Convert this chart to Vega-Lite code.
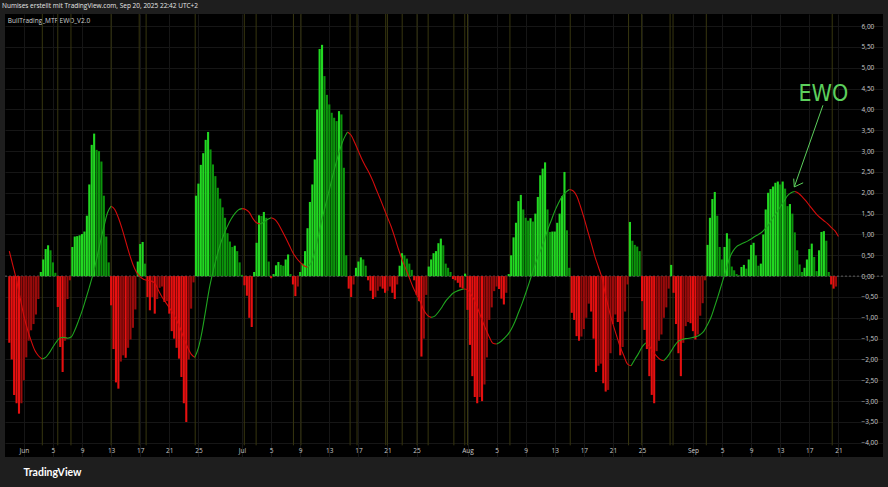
{
 "$schema": "https://vega.github.io/schema/vega-lite/v6.json",
 "width": 878, "height": 443,
 "autosize": {"type": "none"},
 "padding": {"left": 5, "top": 14, "right": 5, "bottom": 30},
 "background": "#1e1e1e",
 "title": {"text": "Numises erstellt mit TradingView.com, Sep 20, 2025 22:42 UTC+2", "anchor": "start", "frame": "group", "dx": -3, "offset": 4, "fontSize": 6.5, "fontWeight": "normal", "color": "#e6e6e6", "font": "Open Sans"},
 "resolve": {"axis": {"x": "independent", "y": "independent"}},
 "datasets": {
  "olive": [{"t":"2025-06-03T13:00"},{"t":"2025-06-05T16:00"},{"t":"2025-06-07T11:30"},{"t":"2025-06-13T00:00"},{"t":"2025-06-16T20:40"},{"t":"2025-06-17T19:30"},{"t":"2025-06-24T13:30"},{"t":"2025-07-01T07:30"},{"t":"2025-07-02T22:30"},{"t":"2025-07-08T01:40"},{"t":"2025-07-09T02:30"},{"t":"2025-07-15T20:40"},{"t":"2025-07-16T19:30"},{"t":"2025-07-20T18:00"},{"t":"2025-07-20T23:30"},{"t":"2025-07-23T00:30"},{"t":"2025-07-25T01:30"},{"t":"2025-07-26T14:10"},{"t":"2025-07-30T03:00"},{"t":"2025-07-31T15:00"},{"t":"2025-08-01T00:00"},{"t":"2025-08-06T20:00"},{"t":"2025-08-15T03:00"},{"t":"2025-08-23T03:30"},{"t":"2025-08-24T22:50"},{"t":"2025-08-28T20:30"},{"t":"2025-08-29T06:15"},{"t":"2025-09-02T20:00"},{"t":"2025-09-20T03:30"}],
  "arrow": [
   {"t":"2025-09-18T20:50","v":4.1,"t2":"2025-09-14T22:20","v2":2.14},
   {"t":"2025-09-14T22:20","v":2.14,"t2":"2025-09-14T20:25","v2":2.34},
   {"t":"2025-09-14T22:20","v":2.14,"t2":"2025-09-16T03:35","v2":2.24}
  ],
  "label": [{"t":"2025-09-18T22:30","v":4.38,"label":"EWO"}],
  "ewo": [
{"t":"2025-05-30T00:00","v":-1.6},{"t":"2025-05-30T08:00","v":-2.0},{"t":"2025-05-30T16:00","v":-2.85},
{"t":"2025-05-31T00:00","v":-3.05},{"t":"2025-05-31T08:00","v":-3.3},{"t":"2025-05-31T16:00","v":-3.05},
{"t":"2025-06-01T00:00","v":-2.5},{"t":"2025-06-01T08:00","v":-1.95},{"t":"2025-06-01T16:00","v":-1.55},
{"t":"2025-06-02T00:00","v":-1.3},{"t":"2025-06-02T08:00","v":-1.15},{"t":"2025-06-02T16:00","v":-0.92},
{"t":"2025-06-03T00:00","v":-0.55},{"t":"2025-06-03T08:00","v":0.1},{"t":"2025-06-03T16:00","v":0.4},
{"t":"2025-06-04T00:00","v":0.65},{"t":"2025-06-04T08:00","v":0.74},{"t":"2025-06-04T16:00","v":0.62},
{"t":"2025-06-05T00:00","v":0.33},{"t":"2025-06-05T08:00","v":0.08},{"t":"2025-06-05T16:00","v":-0.74},
{"t":"2025-06-06T00:00","v":-1.7},{"t":"2025-06-06T08:00","v":-2.3},{"t":"2025-06-06T16:00","v":-1.55},
{"t":"2025-06-07T00:00","v":-0.55},{"t":"2025-06-07T08:00","v":-0.1},{"t":"2025-06-07T16:00","v":0.7},
{"t":"2025-06-08T00:00","v":0.95},{"t":"2025-06-08T08:00","v":0.96},{"t":"2025-06-08T16:00","v":0.98},
{"t":"2025-06-09T00:00","v":1.01},{"t":"2025-06-09T08:00","v":1.07},{"t":"2025-06-09T16:00","v":1.45},
{"t":"2025-06-10T00:00","v":2.2},{"t":"2025-06-10T08:00","v":3.15},{"t":"2025-06-10T16:00","v":3.42},
{"t":"2025-06-11T00:00","v":3.03},{"t":"2025-06-11T08:00","v":3.0},{"t":"2025-06-11T16:00","v":2.75},
{"t":"2025-06-12T00:00","v":1.93},{"t":"2025-06-12T08:00","v":0.95},{"t":"2025-06-12T16:00","v":0.33},
{"t":"2025-06-13T00:00","v":-0.7},{"t":"2025-06-13T08:00","v":-1.75},{"t":"2025-06-13T16:00","v":-2.55},
{"t":"2025-06-14T00:00","v":-2.7},{"t":"2025-06-14T08:00","v":-2.05},{"t":"2025-06-14T16:00","v":-1.9},
{"t":"2025-06-15T00:00","v":-1.96},{"t":"2025-06-15T08:00","v":-1.72},{"t":"2025-06-15T16:00","v":-1.52},
{"t":"2025-06-16T00:00","v":-1.24},{"t":"2025-06-16T08:00","v":-0.8},{"t":"2025-06-16T16:00","v":0.35},
{"t":"2025-06-17T00:00","v":0.77},{"t":"2025-06-17T08:00","v":0.82},{"t":"2025-06-17T16:00","v":0.3},
{"t":"2025-06-18T00:00","v":-0.5},{"t":"2025-06-18T08:00","v":-0.82},{"t":"2025-06-18T16:00","v":-0.5},
{"t":"2025-06-19T00:00","v":-0.9},{"t":"2025-06-19T08:00","v":-0.55},{"t":"2025-06-19T16:00","v":-0.28},
{"t":"2025-06-20T00:00","v":-0.25},{"t":"2025-06-20T08:00","v":-0.62},{"t":"2025-06-20T16:00","v":-0.6},
{"t":"2025-06-21T00:00","v":-0.9},{"t":"2025-06-21T08:00","v":-1.32},{"t":"2025-06-21T16:00","v":-1.5},
{"t":"2025-06-22T00:00","v":-1.72},{"t":"2025-06-22T08:00","v":-1.98},{"t":"2025-06-22T16:00","v":-2.42},
{"t":"2025-06-23T00:00","v":-3.05},{"t":"2025-06-23T08:00","v":-3.5},{"t":"2025-06-23T16:00","v":-2.0},
{"t":"2025-06-24T00:00","v":-0.78},{"t":"2025-06-24T08:00","v":-0.15},{"t":"2025-06-24T16:00","v":1.93},
{"t":"2025-06-25T00:00","v":2.22},{"t":"2025-06-25T08:00","v":2.67},{"t":"2025-06-25T16:00","v":2.95},
{"t":"2025-06-26T00:00","v":3.27},{"t":"2025-06-26T08:00","v":3.46},{"t":"2025-06-26T16:00","v":3.04},
{"t":"2025-06-27T00:00","v":2.68},{"t":"2025-06-27T08:00","v":2.4},{"t":"2025-06-27T16:00","v":2.12},
{"t":"2025-06-28T00:00","v":1.86},{"t":"2025-06-28T08:00","v":1.65},{"t":"2025-06-28T16:00","v":1.4},
{"t":"2025-06-29T00:00","v":1.03},{"t":"2025-06-29T08:00","v":0.83},{"t":"2025-06-29T16:00","v":0.7},
{"t":"2025-06-30T00:00","v":0.73},{"t":"2025-06-30T08:00","v":0.6},{"t":"2025-06-30T16:00","v":0.33},
{"t":"2025-07-01T00:00","v":0.03},{"t":"2025-07-01T08:00","v":-0.22},{"t":"2025-07-01T16:00","v":-0.47},
{"t":"2025-07-02T00:00","v":-1.0},{"t":"2025-07-02T08:00","v":-1.22},{"t":"2025-07-02T16:00","v":0.1},
{"t":"2025-07-03T00:00","v":0.8},{"t":"2025-07-03T08:00","v":1.46},{"t":"2025-07-03T16:00","v":1.44},
{"t":"2025-07-04T00:00","v":1.54},{"t":"2025-07-04T08:00","v":1.4},{"t":"2025-07-04T16:00","v":0.35},
{"t":"2025-07-05T00:00","v":-0.05},{"t":"2025-07-05T08:00","v":0.05},{"t":"2025-07-05T16:00","v":0.26},
{"t":"2025-07-06T00:00","v":0.34},{"t":"2025-07-06T08:00","v":0.27},{"t":"2025-07-06T16:00","v":0.25},
{"t":"2025-07-07T00:00","v":0.4},{"t":"2025-07-07T08:00","v":0.52},{"t":"2025-07-07T16:00","v":0.05},
{"t":"2025-07-08T00:00","v":-0.2},{"t":"2025-07-08T08:00","v":-0.48},{"t":"2025-07-08T16:00","v":-0.25},
{"t":"2025-07-09T00:00","v":0.1},{"t":"2025-07-09T08:00","v":0.3},{"t":"2025-07-09T16:00","v":0.6},
{"t":"2025-07-10T00:00","v":1.15},{"t":"2025-07-10T08:00","v":1.78},{"t":"2025-07-10T16:00","v":2.2},
{"t":"2025-07-11T00:00","v":2.8},{"t":"2025-07-11T08:00","v":4.0},{"t":"2025-07-11T16:00","v":5.45},
{"t":"2025-07-12T00:00","v":5.55},{"t":"2025-07-12T08:00","v":4.8},{"t":"2025-07-12T16:00","v":4.35},
{"t":"2025-07-13T00:00","v":4.12},{"t":"2025-07-13T08:00","v":3.92},{"t":"2025-07-13T16:00","v":3.8},
{"t":"2025-07-14T00:00","v":3.72},{"t":"2025-07-14T08:00","v":3.96},{"t":"2025-07-14T16:00","v":3.88},
{"t":"2025-07-15T00:00","v":2.6},{"t":"2025-07-15T08:00","v":0.5},{"t":"2025-07-15T16:00","v":-0.3},
{"t":"2025-07-16T00:00","v":-0.5},{"t":"2025-07-16T08:00","v":-0.2},{"t":"2025-07-16T16:00","v":0.2},
{"t":"2025-07-17T00:00","v":0.35},{"t":"2025-07-17T08:00","v":0.45},{"t":"2025-07-17T16:00","v":0.4},
{"t":"2025-07-18T00:00","v":0.25},{"t":"2025-07-18T08:00","v":-0.1},{"t":"2025-07-18T16:00","v":-0.35},
{"t":"2025-07-19T00:00","v":-0.55},{"t":"2025-07-19T08:00","v":-0.5},{"t":"2025-07-19T16:00","v":-0.35},
{"t":"2025-07-20T00:00","v":-0.25},{"t":"2025-07-20T08:00","v":-0.3},{"t":"2025-07-20T16:00","v":-0.4},
{"t":"2025-07-21T00:00","v":-0.35},{"t":"2025-07-21T08:00","v":-0.25},{"t":"2025-07-21T16:00","v":-0.4},
{"t":"2025-07-22T00:00","v":-0.55},{"t":"2025-07-22T08:00","v":-0.2},{"t":"2025-07-22T16:00","v":0.25},
{"t":"2025-07-23T00:00","v":0.55},{"t":"2025-07-23T08:00","v":0.5},{"t":"2025-07-23T16:00","v":0.42},
{"t":"2025-07-24T00:00","v":0.3},{"t":"2025-07-24T08:00","v":0.15},{"t":"2025-07-24T16:00","v":-0.1},
{"t":"2025-07-25T00:00","v":-0.45},{"t":"2025-07-25T08:00","v":-0.6},{"t":"2025-07-25T16:00","v":-1.93},
{"t":"2025-07-26T00:00","v":-1.5},{"t":"2025-07-26T08:00","v":-0.45},{"t":"2025-07-26T16:00","v":0.23},
{"t":"2025-07-27T00:00","v":0.4},{"t":"2025-07-27T08:00","v":0.55},{"t":"2025-07-27T16:00","v":0.6},
{"t":"2025-07-28T00:00","v":0.79},{"t":"2025-07-28T08:00","v":0.9},{"t":"2025-07-28T16:00","v":0.74},
{"t":"2025-07-29T00:00","v":0.3},{"t":"2025-07-29T08:00","v":0.2},{"t":"2025-07-29T16:00","v":0.1},
{"t":"2025-07-30T00:00","v":-0.07},{"t":"2025-07-30T08:00","v":-0.1},{"t":"2025-07-30T16:00","v":-0.16},
{"t":"2025-07-31T00:00","v":-0.27},{"t":"2025-07-31T08:00","v":-0.3},{"t":"2025-07-31T16:00","v":0.06},
{"t":"2025-08-01T00:00","v":-0.81},{"t":"2025-08-01T08:00","v":-1.65},{"t":"2025-08-01T16:00","v":-2.4},
{"t":"2025-08-02T00:00","v":-2.9},{"t":"2025-08-02T08:00","v":-3.05},{"t":"2025-08-02T16:00","v":-2.9},
{"t":"2025-08-03T00:00","v":-3.0},{"t":"2025-08-03T08:00","v":-2.6},{"t":"2025-08-03T16:00","v":-1.95},
{"t":"2025-08-04T00:00","v":-1.05},{"t":"2025-08-04T08:00","v":-0.75},{"t":"2025-08-04T16:00","v":-0.36},
{"t":"2025-08-05T00:00","v":-0.25},{"t":"2025-08-05T08:00","v":-0.31},{"t":"2025-08-05T16:00","v":-0.54},
{"t":"2025-08-06T00:00","v":-0.68},{"t":"2025-08-06T08:00","v":-0.4},{"t":"2025-08-06T16:00","v":0.05},
{"t":"2025-08-07T00:00","v":0.5},{"t":"2025-08-07T08:00","v":0.93},{"t":"2025-08-07T16:00","v":1.28},
{"t":"2025-08-08T00:00","v":1.8},{"t":"2025-08-08T08:00","v":1.95},{"t":"2025-08-08T16:00","v":1.6},
{"t":"2025-08-09T00:00","v":1.4},{"t":"2025-08-09T08:00","v":1.33},{"t":"2025-08-09T16:00","v":1.39},
{"t":"2025-08-10T00:00","v":1.31},{"t":"2025-08-10T08:00","v":1.5},{"t":"2025-08-10T16:00","v":1.9},
{"t":"2025-08-11T00:00","v":2.42},{"t":"2025-08-11T08:00","v":2.58},{"t":"2025-08-11T16:00","v":2.73},
{"t":"2025-08-12T00:00","v":1.6},{"t":"2025-08-12T08:00","v":1.06},{"t":"2025-08-12T16:00","v":1.07},
{"t":"2025-08-13T00:00","v":1.07},{"t":"2025-08-13T08:00","v":1.28},{"t":"2025-08-13T16:00","v":1.5},
{"t":"2025-08-14T00:00","v":1.92},{"t":"2025-08-14T08:00","v":2.5},{"t":"2025-08-14T16:00","v":1.1},
{"t":"2025-08-15T00:00","v":0.2},{"t":"2025-08-15T08:00","v":-0.88},{"t":"2025-08-15T16:00","v":-1.05},
{"t":"2025-08-16T00:00","v":-1.44},{"t":"2025-08-16T08:00","v":-1.55},{"t":"2025-08-16T16:00","v":-1.45},
{"t":"2025-08-17T00:00","v":-1.27},{"t":"2025-08-17T08:00","v":-1.0},{"t":"2025-08-17T16:00","v":-0.66},
{"t":"2025-08-18T00:00","v":-0.85},{"t":"2025-08-18T08:00","v":-1.5},{"t":"2025-08-18T16:00","v":-2.3},
{"t":"2025-08-19T00:00","v":-2.15},{"t":"2025-08-19T08:00","v":-2.1},{"t":"2025-08-19T16:00","v":-2.57},
{"t":"2025-08-20T00:00","v":-2.77},{"t":"2025-08-20T08:00","v":-2.73},{"t":"2025-08-20T16:00","v":-1.85},
{"t":"2025-08-21T00:00","v":-1.15},{"t":"2025-08-21T08:00","v":-0.92},{"t":"2025-08-21T16:00","v":-1.1},
{"t":"2025-08-22T00:00","v":-1.9},{"t":"2025-08-22T08:00","v":-1.7},{"t":"2025-08-22T16:00","v":-0.85},
{"t":"2025-08-23T00:00","v":-0.2},{"t":"2025-08-23T08:00","v":1.3},{"t":"2025-08-23T16:00","v":0.85},
{"t":"2025-08-24T00:00","v":0.75},{"t":"2025-08-24T08:00","v":0.71},{"t":"2025-08-24T16:00","v":0.6},
{"t":"2025-08-25T00:00","v":-0.6},{"t":"2025-08-25T08:00","v":-1.29},{"t":"2025-08-25T16:00","v":-1.75},
{"t":"2025-08-26T00:00","v":-2.4},{"t":"2025-08-26T08:00","v":-2.85},{"t":"2025-08-26T16:00","v":-3.05},
{"t":"2025-08-27T00:00","v":-1.8},{"t":"2025-08-27T08:00","v":-1.55},{"t":"2025-08-27T16:00","v":-1.4},
{"t":"2025-08-28T00:00","v":-1.0},{"t":"2025-08-28T08:00","v":-0.75},{"t":"2025-08-28T16:00","v":-0.3},
{"t":"2025-08-29T00:00","v":0.27},{"t":"2025-08-29T08:00","v":-0.4},{"t":"2025-08-29T16:00","v":-1.15},
{"t":"2025-08-30T00:00","v":-1.85},{"t":"2025-08-30T08:00","v":-2.4},{"t":"2025-08-30T16:00","v":-1.6},
{"t":"2025-08-31T00:00","v":-1.2},{"t":"2025-08-31T08:00","v":-1.1},{"t":"2025-08-31T16:00","v":-1.13},
{"t":"2025-09-01T00:00","v":-1.32},{"t":"2025-09-01T08:00","v":-1.52},{"t":"2025-09-01T16:00","v":-1.4},
{"t":"2025-09-02T00:00","v":-0.95},{"t":"2025-09-02T08:00","v":-0.65},{"t":"2025-09-02T16:00","v":-0.1},
{"t":"2025-09-03T00:00","v":0.75},{"t":"2025-09-03T08:00","v":1.4},{"t":"2025-09-03T16:00","v":1.85},
{"t":"2025-09-04T00:00","v":2.02},{"t":"2025-09-04T08:00","v":1.45},{"t":"2025-09-04T16:00","v":0.7},
{"t":"2025-09-05T00:00","v":0.4},{"t":"2025-09-05T08:00","v":0.7},{"t":"2025-09-05T16:00","v":1.03},
{"t":"2025-09-06T00:00","v":0.9},{"t":"2025-09-06T08:00","v":0.23},{"t":"2025-09-06T16:00","v":0.14},
{"t":"2025-09-07T00:00","v":0.05},{"t":"2025-09-07T08:00","v":0.02},{"t":"2025-09-07T16:00","v":0.22},
{"t":"2025-09-08T00:00","v":0.27},{"t":"2025-09-08T08:00","v":0.18},{"t":"2025-09-08T16:00","v":0.4},
{"t":"2025-09-09T00:00","v":0.75},{"t":"2025-09-09T08:00","v":0.8},{"t":"2025-09-09T16:00","v":0.5},
{"t":"2025-09-10T00:00","v":0.25},{"t":"2025-09-10T08:00","v":0.3},{"t":"2025-09-10T16:00","v":1.0},
{"t":"2025-09-11T00:00","v":1.6},{"t":"2025-09-11T08:00","v":2.0},{"t":"2025-09-11T16:00","v":2.09},
{"t":"2025-09-12T00:00","v":2.15},{"t":"2025-09-12T08:00","v":2.24},{"t":"2025-09-12T16:00","v":2.27},
{"t":"2025-09-13T00:00","v":2.2},{"t":"2025-09-13T08:00","v":2.27},{"t":"2025-09-13T16:00","v":2.1},
{"t":"2025-09-14T00:00","v":1.68},{"t":"2025-09-14T08:00","v":1.73},{"t":"2025-09-14T16:00","v":1.5},
{"t":"2025-09-15T00:00","v":1.05},{"t":"2025-09-15T08:00","v":0.62},{"t":"2025-09-15T16:00","v":0.28},
{"t":"2025-09-16T00:00","v":0.1},{"t":"2025-09-16T08:00","v":0.2},{"t":"2025-09-16T16:00","v":0.4},
{"t":"2025-09-17T00:00","v":0.65},{"t":"2025-09-17T08:00","v":0.78},{"t":"2025-09-17T16:00","v":0.46},
{"t":"2025-09-18T00:00","v":0.12},{"t":"2025-09-18T08:00","v":0.62},{"t":"2025-09-18T16:00","v":1.06},
{"t":"2025-09-19T00:00","v":1.08},{"t":"2025-09-19T08:00","v":0.85},{"t":"2025-09-19T16:00","v":0.1},
{"t":"2025-09-20T00:00","v":-0.2},{"t":"2025-09-20T08:00","v":-0.3},{"t":"2025-09-20T16:00","v":-0.25}
  ],
  "sig": [
{"t":"2025-05-30T00:00","s":0.6},{"t":"2025-05-30T12:00","s":0.25},{"t":"2025-05-31T00:00","s":-0.1},{"t":"2025-05-31T12:00","s":-0.53},
{"t":"2025-06-01T00:00","s":-0.95},{"t":"2025-06-01T12:00","s":-1.28},{"t":"2025-06-02T00:00","s":-1.55},{"t":"2025-06-02T12:00","s":-1.78},
{"t":"2025-06-03T00:00","s":-1.91},{"t":"2025-06-03T12:00","s":-1.99},{"t":"2025-06-04T00:00","s":-1.95},{"t":"2025-06-04T12:00","s":-1.84},
{"t":"2025-06-05T00:00","s":-1.7},{"t":"2025-06-05T12:00","s":-1.57},{"t":"2025-06-06T00:00","s":-1.48},{"t":"2025-06-06T12:00","s":-1.47},
{"t":"2025-06-07T00:00","s":-1.49},{"t":"2025-06-07T12:00","s":-1.46},{"t":"2025-06-08T00:00","s":-1.3},{"t":"2025-06-08T12:00","s":-1.08},
{"t":"2025-06-09T00:00","s":-0.84},{"t":"2025-06-09T12:00","s":-0.56},{"t":"2025-06-10T00:00","s":-0.27},{"t":"2025-06-10T12:00","s":0.04},
{"t":"2025-06-11T00:00","s":0.4},{"t":"2025-06-11T12:00","s":0.8},{"t":"2025-06-12T00:00","s":1.18},{"t":"2025-06-12T12:00","s":1.52},
{"t":"2025-06-13T00:00","s":1.68},{"t":"2025-06-13T12:00","s":1.6},{"t":"2025-06-14T00:00","s":1.4},{"t":"2025-06-14T12:00","s":1.14},
{"t":"2025-06-15T00:00","s":0.84},{"t":"2025-06-15T12:00","s":0.54},{"t":"2025-06-16T00:00","s":0.28},{"t":"2025-06-16T12:00","s":0.09},
{"t":"2025-06-17T00:00","s":-0.02},{"t":"2025-06-17T12:00","s":-0.08},{"t":"2025-06-18T00:00","s":-0.1},{"t":"2025-06-18T12:00","s":-0.12},
{"t":"2025-06-19T00:00","s":-0.17},{"t":"2025-06-19T12:00","s":-0.34},{"t":"2025-06-20T00:00","s":-0.5},{"t":"2025-06-20T12:00","s":-0.63},
{"t":"2025-06-21T00:00","s":-0.76},{"t":"2025-06-21T12:00","s":-0.89},{"t":"2025-06-22T00:00","s":-1.06},{"t":"2025-06-22T12:00","s":-1.25},
{"t":"2025-06-23T00:00","s":-1.49},{"t":"2025-06-23T12:00","s":-1.7},{"t":"2025-06-24T00:00","s":-1.87},{"t":"2025-06-24T12:00","s":-1.95},
{"t":"2025-06-25T00:00","s":-1.72},{"t":"2025-06-25T12:00","s":-1.33},{"t":"2025-06-26T00:00","s":-0.82},{"t":"2025-06-26T12:00","s":-0.3},
{"t":"2025-06-27T00:00","s":0.1},{"t":"2025-06-27T12:00","s":0.45},{"t":"2025-06-28T00:00","s":0.76},{"t":"2025-06-28T12:00","s":1.0},
{"t":"2025-06-29T00:00","s":1.2},{"t":"2025-06-29T12:00","s":1.37},{"t":"2025-06-30T00:00","s":1.5},{"t":"2025-06-30T12:00","s":1.59},
{"t":"2025-07-01T00:00","s":1.62},{"t":"2025-07-01T12:00","s":1.6},{"t":"2025-07-02T00:00","s":1.53},{"t":"2025-07-02T12:00","s":1.38},
{"t":"2025-07-03T00:00","s":1.28},{"t":"2025-07-03T12:00","s":1.25},{"t":"2025-07-04T00:00","s":1.3},{"t":"2025-07-04T12:00","s":1.36},
{"t":"2025-07-05T00:00","s":1.4},{"t":"2025-07-05T12:00","s":1.36},{"t":"2025-07-06T00:00","s":1.25},{"t":"2025-07-06T12:00","s":1.09},
{"t":"2025-07-07T00:00","s":0.92},{"t":"2025-07-07T12:00","s":0.74},{"t":"2025-07-08T00:00","s":0.56},{"t":"2025-07-08T12:00","s":0.43},
{"t":"2025-07-09T00:00","s":0.33},{"t":"2025-07-09T12:00","s":0.25},{"t":"2025-07-10T00:00","s":0.21},{"t":"2025-07-10T12:00","s":0.32},
{"t":"2025-07-11T00:00","s":0.58},{"t":"2025-07-11T12:00","s":0.97},{"t":"2025-07-12T00:00","s":1.36},{"t":"2025-07-12T12:00","s":1.72},
{"t":"2025-07-13T00:00","s":2.07},{"t":"2025-07-13T12:00","s":2.43},{"t":"2025-07-14T00:00","s":2.76},{"t":"2025-07-14T12:00","s":3.06},
{"t":"2025-07-15T00:00","s":3.3},{"t":"2025-07-15T12:00","s":3.46},{"t":"2025-07-16T00:00","s":3.38},{"t":"2025-07-16T12:00","s":3.2},
{"t":"2025-07-17T00:00","s":3.0},{"t":"2025-07-17T12:00","s":2.8},{"t":"2025-07-18T00:00","s":2.63},{"t":"2025-07-18T12:00","s":2.47},
{"t":"2025-07-19T00:00","s":2.28},{"t":"2025-07-19T12:00","s":2.06},{"t":"2025-07-20T00:00","s":1.85},{"t":"2025-07-20T12:00","s":1.63},
{"t":"2025-07-21T00:00","s":1.41},{"t":"2025-07-21T12:00","s":1.19},{"t":"2025-07-22T00:00","s":0.93},{"t":"2025-07-22T12:00","s":0.65},
{"t":"2025-07-23T00:00","s":0.4},{"t":"2025-07-23T12:00","s":0.18},{"t":"2025-07-24T00:00","s":-0.04},{"t":"2025-07-24T12:00","s":-0.26},
{"t":"2025-07-25T00:00","s":-0.44},{"t":"2025-07-25T12:00","s":-0.61},{"t":"2025-07-26T00:00","s":-0.82},{"t":"2025-07-26T12:00","s":-0.94},
{"t":"2025-07-27T00:00","s":-0.99},{"t":"2025-07-27T12:00","s":-0.96},{"t":"2025-07-28T00:00","s":-0.86},{"t":"2025-07-28T12:00","s":-0.74},
{"t":"2025-07-29T00:00","s":-0.6},{"t":"2025-07-29T12:00","s":-0.5},{"t":"2025-07-30T00:00","s":-0.41},{"t":"2025-07-30T12:00","s":-0.36},
{"t":"2025-07-31T00:00","s":-0.33},{"t":"2025-07-31T12:00","s":-0.31},{"t":"2025-08-01T00:00","s":-0.33},{"t":"2025-08-01T12:00","s":-0.44},
{"t":"2025-08-02T00:00","s":-0.6},{"t":"2025-08-02T12:00","s":-0.82},{"t":"2025-08-03T00:00","s":-1.05},{"t":"2025-08-03T12:00","s":-1.27},
{"t":"2025-08-04T00:00","s":-1.46},{"t":"2025-08-04T12:00","s":-1.61},{"t":"2025-08-05T00:00","s":-1.63},{"t":"2025-08-05T12:00","s":-1.58},
{"t":"2025-08-06T00:00","s":-1.5},{"t":"2025-08-06T12:00","s":-1.41},{"t":"2025-08-07T00:00","s":-1.28},{"t":"2025-08-07T12:00","s":-1.1},
{"t":"2025-08-08T00:00","s":-0.88},{"t":"2025-08-08T12:00","s":-0.66},{"t":"2025-08-09T00:00","s":-0.41},{"t":"2025-08-09T12:00","s":-0.15},
{"t":"2025-08-10T00:00","s":0.12},{"t":"2025-08-10T12:00","s":0.38},{"t":"2025-08-11T00:00","s":0.6},{"t":"2025-08-11T12:00","s":0.82},
{"t":"2025-08-12T00:00","s":1.1},{"t":"2025-08-12T12:00","s":1.33},{"t":"2025-08-13T00:00","s":1.56},{"t":"2025-08-13T12:00","s":1.75},
{"t":"2025-08-14T00:00","s":1.91},{"t":"2025-08-14T12:00","s":2.01},{"t":"2025-08-15T00:00","s":2.08},{"t":"2025-08-15T12:00","s":2.05},
{"t":"2025-08-16T00:00","s":1.93},{"t":"2025-08-16T12:00","s":1.69},{"t":"2025-08-17T00:00","s":1.41},{"t":"2025-08-17T12:00","s":1.1},
{"t":"2025-08-18T00:00","s":0.8},{"t":"2025-08-18T12:00","s":0.48},{"t":"2025-08-19T00:00","s":0.22},{"t":"2025-08-19T12:00","s":-0.05},
{"t":"2025-08-20T00:00","s":-0.47},{"t":"2025-08-20T12:00","s":-0.84},{"t":"2025-08-21T00:00","s":-1.15},{"t":"2025-08-21T12:00","s":-1.43},
{"t":"2025-08-22T00:00","s":-1.7},{"t":"2025-08-22T12:00","s":-1.91},{"t":"2025-08-23T00:00","s":-2.11},{"t":"2025-08-23T12:00","s":-2.15},
{"t":"2025-08-24T00:00","s":-2.0},{"t":"2025-08-24T12:00","s":-1.86},{"t":"2025-08-25T00:00","s":-1.7},{"t":"2025-08-25T12:00","s":-1.6},
{"t":"2025-08-26T00:00","s":-1.68},{"t":"2025-08-26T12:00","s":-1.81},{"t":"2025-08-27T00:00","s":-1.92},{"t":"2025-08-27T12:00","s":-2.0},
{"t":"2025-08-28T00:00","s":-2.03},{"t":"2025-08-28T12:00","s":-1.93},{"t":"2025-08-29T00:00","s":-1.8},{"t":"2025-08-29T12:00","s":-1.66},
{"t":"2025-08-30T00:00","s":-1.56},{"t":"2025-08-30T12:00","s":-1.52},{"t":"2025-08-31T00:00","s":-1.5},{"t":"2025-08-31T12:00","s":-1.49},
{"t":"2025-09-01T00:00","s":-1.47},{"t":"2025-09-01T12:00","s":-1.45},{"t":"2025-09-02T00:00","s":-1.4},{"t":"2025-09-02T12:00","s":-1.32},
{"t":"2025-09-03T00:00","s":-1.16},{"t":"2025-09-03T12:00","s":-0.98},{"t":"2025-09-04T00:00","s":-0.72},{"t":"2025-09-04T12:00","s":-0.45},
{"t":"2025-09-05T00:00","s":-0.16},{"t":"2025-09-05T12:00","s":0.12},{"t":"2025-09-06T00:00","s":0.42},{"t":"2025-09-06T12:00","s":0.6},
{"t":"2025-09-07T00:00","s":0.71},{"t":"2025-09-07T12:00","s":0.76},{"t":"2025-09-08T00:00","s":0.8},{"t":"2025-09-08T12:00","s":0.84},
{"t":"2025-09-09T00:00","s":0.89},{"t":"2025-09-09T12:00","s":0.95},{"t":"2025-09-10T00:00","s":1.0},{"t":"2025-09-10T12:00","s":1.06},
{"t":"2025-09-11T00:00","s":1.15},{"t":"2025-09-11T12:00","s":1.26},{"t":"2025-09-12T00:00","s":1.4},{"t":"2025-09-12T12:00","s":1.52},
{"t":"2025-09-13T00:00","s":1.66},{"t":"2025-09-13T12:00","s":1.79},{"t":"2025-09-14T00:00","s":1.93},{"t":"2025-09-14T12:00","s":2.0},
{"t":"2025-09-15T00:00","s":2.03},{"t":"2025-09-15T12:00","s":1.99},{"t":"2025-09-16T00:00","s":1.91},{"t":"2025-09-16T12:00","s":1.81},
{"t":"2025-09-17T00:00","s":1.7},{"t":"2025-09-17T12:00","s":1.59},{"t":"2025-09-18T00:00","s":1.48},{"t":"2025-09-18T12:00","s":1.4},
{"t":"2025-09-19T00:00","s":1.33},{"t":"2025-09-19T12:00","s":1.26},{"t":"2025-09-20T00:00","s":1.17},{"t":"2025-09-20T12:00","s":1.09},
{"t":"2025-09-21T00:00","s":0.95}
  ]
 },
 "layer": [
  {
   "data": {"name": "olive"},
   "mark": {"type": "rule", "color": "#37360f", "strokeWidth": 1},
   "encoding": {
    "x": {"field": "t", "type": "temporal", "axis": null},
    "y": {"datum": 6.29, "type": "quantitative", "axis": null},
    "y2": {"datum": -4.06}
   }
  },
  {
   "data": {"values": [{}]},
   "mark": {"type": "rule", "color": "#5e5e5e", "strokeDash": [2, 2], "strokeWidth": 1},
   "encoding": {"y": {"datum": 0, "type": "quantitative", "axis": null}}
  },
  {
   "data": {"name": "ewo"},
   "transform": [
    {"window": [{"op": "lag", "field": "v", "as": "pv"}], "sort": [{"field": "t"}]},
    {"calculate": "datum.v >= 0 ? ((!isValid(datum.pv) || datum.v >= datum.pv) ? 'gu' : 'gd') : ((!isValid(datum.pv) || datum.v <= datum.pv) ? 'rd' : 'ru')", "as": "cls"}
   ],
   "mark": {"type": "bar", "size": 2.1, "clip": true},
   "encoding": {
    "x": {
     "field": "t", "type": "temporal",
     "scale": {"domain": [{"year": 2025, "month": 5, "date": 30, "hours": 2, "minutes": 20}, {"year": 2025, "month": 9, "date": 26, "hours": 10, "minutes": 34}]},
     "axis": {
      "orient": "bottom", "offset": -12,
      "values": [
       {"year":2025,"month":6,"date":1},{"year":2025,"month":6,"date":5},{"year":2025,"month":6,"date":9},{"year":2025,"month":6,"date":13},{"year":2025,"month":6,"date":17},{"year":2025,"month":6,"date":21},{"year":2025,"month":6,"date":25},
       {"year":2025,"month":7,"date":1},{"year":2025,"month":7,"date":5},{"year":2025,"month":7,"date":9},{"year":2025,"month":7,"date":13},{"year":2025,"month":7,"date":17},{"year":2025,"month":7,"date":21},{"year":2025,"month":7,"date":25},
       {"year":2025,"month":8,"date":1},{"year":2025,"month":8,"date":5},{"year":2025,"month":8,"date":9},{"year":2025,"month":8,"date":13},{"year":2025,"month":8,"date":17},{"year":2025,"month":8,"date":21},{"year":2025,"month":8,"date":25},
       {"year":2025,"month":9,"date":1},{"year":2025,"month":9,"date":5},{"year":2025,"month":9,"date":9},{"year":2025,"month":9,"date":13},{"year":2025,"month":9,"date":17},{"year":2025,"month":9,"date":21}
      ],
      "labelExpr": "date(datum.value) == 1 ? timeFormat(datum.value, '%b') : timeFormat(datum.value, '%-d')",
      "labelBaseline": "top", "labelPadding": 2.5, "ticks": false, "domain": false,
      "grid": true, "gridColor": "#161616", "gridWidth": 1,
      "labelColor": "#c9c9c9", "labelFontSize": 6.5, "labelFont": "Open Sans", "labelOverlap": false, "labelFlush": false,
      "title": "TradingView", "titleX": 18, "titleY": 27.5, "titleAlign": "left", "titleBaseline": "middle",
      "titleFontSize": 10.5, "titleFontWeight": "bold", "titleColor": "#ffffff", "titleFont": "Lato"
     }
    },
    "y": {
     "field": "v", "type": "quantitative",
     "scale": {"domain": [-4.34, 6.29], "nice": false, "zero": false},
     "axis": {
      "orient": "right", "offset": -26,
      "values": [-4, -3.5, -3, -2.5, -2, -1.5, -1, -0.5, 0, 0.5, 1, 1.5, 2, 2.5, 3, 3.5, 4, 4.5, 5, 5.5, 6],
      "labelExpr": "replace(format(datum.value, '.2f'), '.', ',')",
      "labelAlign": "left", "labelBaseline": "middle", "labelPadding": 4, "ticks": false, "domain": false,
      "grid": true, "gridColor": "#161616", "gridWidth": 1,
      "labelColor": "#c9c9c9", "labelFontSize": 6.5, "labelFont": "Open Sans", "labelOverlap": false, "labelBound": false, "labelFlush": false,
      "title": "BullTrading_MTF EWO_V2.0", "titleAngle": 0, "titleX": -849.7, "titleY": 6.5, "titleAlign": "left", "titleBaseline": "middle",
      "titleFontSize": 6.5, "titleFontWeight": "normal", "titleColor": "#d0d0d0", "titleFont": "Open Sans"
     }
    },
    "y2": {"datum": 0},
    "color": {"field": "cls", "type": "nominal", "scale": {"domain": ["gu", "gd", "ru", "rd"], "range": ["#22d822", "#0c940c", "#990b0b", "#e61010"]}, "legend": null}
   }
  },
  {
   "data": {"name": "sig"},
   "transform": [
    {"window": [{"op": "lag", "field": "s", "as": "ps"}, {"op": "lead", "field": "s", "as": "ns"}], "sort": [{"field": "t"}]},
    {"calculate": "((isValid(datum.ps) && datum.s <= datum.ps) || (isValid(datum.ns) && datum.ns <= datum.s)) ? datum.s : null", "as": "sr"}
   ],
   "mark": {"type": "line", "color": "#d40c0c", "strokeWidth": 1.1, "interpolate": "monotone", "clip": true},
   "encoding": {
    "x": {"field": "t", "type": "temporal", "axis": null},
    "y": {"field": "sr", "type": "quantitative", "axis": null}
   }
  },
  {
   "data": {"name": "sig"},
   "transform": [
    {"window": [{"op": "lag", "field": "s", "as": "ps"}, {"op": "lead", "field": "s", "as": "ns"}], "sort": [{"field": "t"}]},
    {"calculate": "((isValid(datum.ps) && datum.s >= datum.ps) || (isValid(datum.ns) && datum.ns >= datum.s)) ? datum.s : null", "as": "sg"}
   ],
   "mark": {"type": "line", "color": "#1fa51f", "strokeWidth": 1.1, "interpolate": "monotone", "clip": true},
   "encoding": {
    "x": {"field": "t", "type": "temporal", "axis": null},
    "y": {"field": "sg", "type": "quantitative", "axis": null}
   }
  },
  {
   "data": {"name": "arrow"},
   "mark": {"type": "rule", "color": "#5ccf5c", "strokeWidth": 1},
   "encoding": {
    "x": {"field": "t", "type": "temporal", "axis": null},
    "x2": {"field": "t2"},
    "y": {"field": "v", "type": "quantitative", "axis": null},
    "y2": {"field": "v2"}
   }
  },
  {
   "data": {"name": "label"},
   "mark": {"type": "text", "color": "#5ccf5c", "fontSize": 23, "font": "Liberation Sans Narrow, DejaVu Sans Condensed, sans-serif", "align": "center", "baseline": "middle"},
   "encoding": {
    "x": {"field": "t", "type": "temporal", "axis": null},
    "y": {"field": "v", "type": "quantitative", "axis": null},
    "text": {"field": "label"}
   }
  }
 ],
 "config": {"view": {"fill": "#000000", "stroke": null}}
}
